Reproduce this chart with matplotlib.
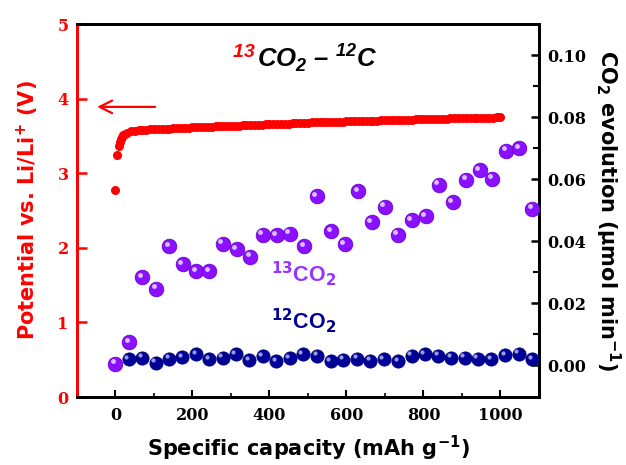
import matplotlib
matplotlib.use("Agg")
import matplotlib.pyplot as plt
import matplotlib.transforms as mtransforms
import numpy as np

plt.rcParams['mathtext.fontset'] = 'custom'
plt.rcParams['mathtext.rm'] = 'DejaVu Sans:bold'
plt.rcParams['mathtext.it'] = 'DejaVu Sans:bold:italic'
plt.rcParams['mathtext.bf'] = 'DejaVu Sans:bold'
plt.rcParams['mathtext.sf'] = 'Liberation Sans:bold:italic'

# potential curve (V vs. Li/Li+)
capacity = [0, 4, 8, 11, 14, 17, 20, 25,
            30, 40, 50, 60, 70, 80, 90, 100, 110, 120, 130, 140, 150, 160, 170, 180, 190,
            200, 210, 220, 230, 240, 250, 260, 270, 280, 290, 300, 310, 320, 330, 340, 350,
            360, 370, 380, 390, 400, 410, 420, 430, 440, 450, 460, 470, 480, 490, 500,
            510, 520, 530, 540, 550, 560, 570, 580, 590, 600, 610, 620, 630, 640, 650,
            660, 670, 680, 690, 700, 710, 720, 730, 740, 750, 760, 770, 780, 790, 800,
            810, 820, 830, 840, 850, 860, 870, 880, 890, 900, 910, 920, 930, 940, 950,
            960, 970, 980, 990, 1000]
potential = [2.77, 3.24, 3.37, 3.42, 3.46, 3.49, 3.51, 3.53,
             3.54, 3.56, 3.57, 3.575, 3.58, 3.585, 3.59, 3.59, 3.595, 3.60, 3.60, 3.60, 3.605, 3.605, 3.61, 3.61, 3.61,
             3.615, 3.617, 3.619, 3.621, 3.623, 3.625, 3.627, 3.629, 3.631, 3.633, 3.635, 3.637, 3.639, 3.641, 3.643, 3.645,
             3.647, 3.649, 3.652, 3.654, 3.656, 3.658, 3.660, 3.662, 3.664, 3.667, 3.669, 3.671, 3.674, 3.677, 3.680,
             3.681, 3.683, 3.684, 3.686, 3.687, 3.689, 3.690, 3.692, 3.693, 3.695, 3.696, 3.698, 3.699, 3.701, 3.702,
             3.704, 3.705, 3.707, 3.708, 3.710, 3.711, 3.713, 3.714, 3.716, 3.717, 3.719, 3.720, 3.722, 3.723, 3.725,
             3.726, 3.728, 3.729, 3.731, 3.732, 3.734, 3.735, 3.736, 3.738, 3.739, 3.740, 3.741, 3.742, 3.743, 3.744,
             3.745, 3.746, 3.747, 3.748, 3.750]

# 13CO2 evolution (umol/min)
cap_13 = [0, 36, 69, 106, 140, 175, 210, 244, 279, 315, 350, 383, 419, 453, 490, 523,
          560, 595, 630, 665, 699, 733, 769, 806, 839, 876, 911, 946, 979, 1015, 1049, 1083]
co2_13 = [0.0005, 0.0073, 0.0284, 0.0247, 0.0384, 0.0325, 0.0303, 0.0303, 0.0392, 0.0373,
          0.0350, 0.0421, 0.0419, 0.0424, 0.0383, 0.0544, 0.0431, 0.0389, 0.0560, 0.0460,
          0.0511, 0.0421, 0.0467, 0.0480, 0.0582, 0.0525, 0.0598, 0.0628, 0.0601, 0.0692,
          0.0699, 0.0505]

# 12CO2 evolution (umol/min)
cap_12 = [34, 69, 105, 140, 174, 210, 244, 278, 313, 348, 383, 417, 452, 486, 524,
          559, 591, 628, 662, 697, 734, 769, 803, 838, 872, 907, 941, 976, 1013, 1047, 1082]
co2_12 = [0.0019, 0.0024, 0.0008, 0.0021, 0.0026, 0.0035, 0.0019, 0.0024, 0.0035, 0.0016,
          0.0028, 0.0012, 0.0022, 0.0035, 0.0030, 0.0012, 0.0017, 0.0021, 0.0014, 0.0019,
          0.0012, 0.0030, 0.0035, 0.0030, 0.0024, 0.0024, 0.0021, 0.0019, 0.0032, 0.0037,
          0.0019]

tickfont = {'family': 'DejaVu Serif', 'weight': 'bold', 'size': 11.5}
labelfont = {'family': 'DejaVu Sans', 'weight': 'bold', 'size': 15}

fig = plt.figure(figsize=(6.26, 4.65), dpi=100)
ax = fig.add_axes([0.123, 0.1462, 0.738, 0.802])
ax2 = ax.twinx()

red = '#ff0000'
purple = '#8a10ff'
navy = '#000099'

ax.plot(capacity, potential, 'o', color=red, markersize=6.5, markeredgewidth=0, zorder=3)

hl = ax2.transData + mtransforms.ScaledTranslation(-1.8 / 72, 1.8 / 72, fig.dpi_scale_trans)
ax2.plot(cap_12, co2_12, 'o', color=navy, markersize=9.5, markeredgecolor='#000070',
         markeredgewidth=0.6, zorder=3)
ax2.plot(cap_12, co2_12, 'o', color='#9a9ae0', markersize=3, markeredgewidth=0,
         transform=hl, zorder=4)
ax2.plot(cap_13, co2_13, 'o', color=purple, markersize=10.5, markeredgecolor='#6a00d0',
         markeredgewidth=0.6, zorder=5)
ax2.plot(cap_13, co2_13, 'o', color='#d8c0ff', markersize=3.5, markeredgewidth=0,
         transform=hl, zorder=6)

ax.set_xlim(-100, 1100)
ax.set_ylim(0, 5)
ax2.set_ylim(-0.0103, 0.11)

ax.set_xticks([0, 200, 400, 600, 800, 1000])
ax.set_xticks(np.arange(-100, 1101, 100), minor=True)
ax.set_yticks([0, 1, 2, 3, 4, 5])
ax2.set_yticks([0.00, 0.02, 0.04, 0.06, 0.08, 0.10])
ax2.set_yticks([0.01, 0.03, 0.05, 0.07, 0.09], minor=True)

ax.tick_params(axis='x', which='major', direction='in', length=5, width=1.5, pad=7, top=False)
ax.tick_params(axis='x', which='minor', direction='in', length=3, width=1.2, top=False)
ax.tick_params(axis='y', which='both', direction='in', length=7, width=1.8, colors=red, pad=6)
ax2.tick_params(axis='y', which='major', direction='in', length=6, width=1.8, pad=6)
ax2.tick_params(axis='y', which='minor', direction='in', length=4, width=1.5)

ax.set_xticklabels(['0', '200', '400', '600', '800', '1000'], fontdict=tickfont)
ax.set_yticklabels(['0', '1', '2', '3', '4', '5'], fontdict=tickfont)
ax2.set_yticklabels(['0.00', '0.02', '0.04', '0.06', '0.08', '0.10'], fontdict=tickfont)

for sp in ['top', 'right', 'bottom']:
    ax2.spines[sp].set_linewidth(2)
    ax2.spines[sp].set_color('black')
ax2.spines['left'].set_color(red)
ax2.spines['left'].set_linewidth(2)
for sp in ax.spines.values():
    sp.set_linewidth(2)
ax.spines['left'].set_color(red)

ax.set_xlabel('Specific capacity (mAh g$^{\\mathbf{-1}}$)', fontdict=labelfont, labelpad=7)
ax.set_ylabel('Potential vs. Li/Li$^{\\mathbf{+}}$ (V)', fontdict=labelfont, color=red, labelpad=12)
ax2.set_ylabel('CO$_{\\mathbf{2}}$ evolution (\u03bcmol min$^{\\mathbf{-1}}$)', fontdict=labelfont,
               rotation=270, labelpad=5, va='bottom')

# arrow pointing to the left axis
ax.annotate('', xy=(-55, 3.89), xytext=(110, 3.89),
            arrowprops=dict(arrowstyle='->,head_length=0.9,head_width=0.45', color=red, lw=1.6))

# title
ax.text(232 / 626, 1 - 67 / 465, '$^{\\mathsf{13}}$', transform=fig.transFigure, color=red,
        fontsize=20, ha='left', va='baseline', family='Liberation Sans', weight='bold', style='italic')
ax.text(257 / 626, 1 - 67 / 465, 'CO$_{\\mathsf{2}}$ \u2013 $^{\\mathsf{12}}$C', transform=fig.transFigure,
        color='black', fontsize=18.5, ha='left', va='baseline', family='Liberation Sans',
        weight='bold', style='italic')

# series labels
ax.text(271 / 626, 1 - 282 / 465, '$^{13}$CO$_2$', transform=fig.transFigure, color='#9933ff',
        fontsize=15.5, ha='left', va='baseline', family='Liberation Sans', weight='bold')
ax.text(271 / 626, 1 - 329 / 465, '$^{12}$CO$_2$', transform=fig.transFigure, color=navy,
        fontsize=15.5, ha='left', va='baseline', family='Liberation Sans', weight='bold')

fig.savefig('out.png', dpi=100)
